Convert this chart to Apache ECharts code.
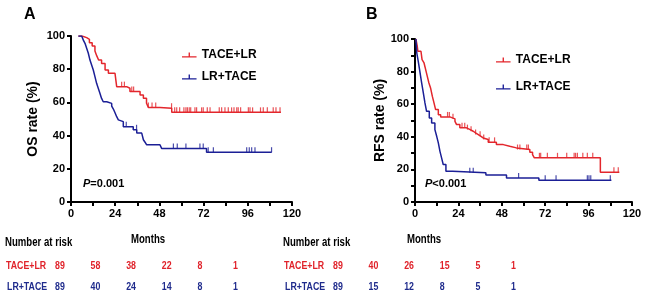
<!DOCTYPE html>
<html>
<head>
<meta charset="utf-8">
<script src="https://cdn.jsdelivr.net/npm/echarts@6/dist/echarts.min.js"></script>
<style>
  html, body { margin: 0; padding: 0; background: #fff; }
  #chart { width: 646px; height: 299px; }
</style>
</head>
<body>
<div id="chart"></div>
<script>
// survival curves, [month, %] at each step
const osTaceLr = [[4,100],[6,99],[8.5,98],[10,96],[11.5,94],[13,91],[14,88],[15,85.5],[16.6,83.5],[18.5,79.5],[20.3,77.5],[23.9,76.5],[24.8,69.5],[30.2,68.5],[32,66.5],[37.5,64.5],[39.3,62.5],[41,59.5],[42,57],[48.3,56.5],[54.7,54],[114,54]];
const osLrTace = [[4,100],[5.8,99],[6.7,97.5],[7.6,95.6],[8.5,92.6],[9.4,89.6],[10.3,85.5],[11.2,82.5],[12.1,79.5],[13,75.5],[13.9,71.5],[14.8,68.5],[15.7,65.5],[16.6,62.4],[17.5,60.4],[19.4,59.4],[22.1,57.8],[23,56],[23.9,53.8],[24.8,51.4],[25.7,49.5],[26.6,48.4],[28.4,45.4],[33.8,43.5],[35.7,41.5],[38.4,40.5],[39.3,37.5],[40.2,36],[41,34.5],[48.3,33.5],[49.2,32.3],[73.6,30],[109,30]];
const rfsTaceLr = [[0.5,100],[1.2,96],[1.6,92.5],[3.3,91.4],[3.9,87.3],[5,85.3],[5.9,81.2],[6.8,77.1],[7.7,73],[8.6,70],[9.6,64.8],[10.5,60.8],[11.4,56.7],[12.9,53.6],[14.2,52.2],[19.3,51],[22.1,49.5],[23,47.5],[24.8,45.5],[28.5,44.4],[30.5,43.4],[32.2,42.4],[33.5,41.4],[35,40.3],[36.5,39.3],[37.7,38.3],[40.5,36.6],[45,35.2],[48.8,34.2],[52.4,33.2],[56.1,32.2],[63.5,30.5],[65,29],[66,27.1],[102.5,18.3],[113,18.3]];
const rfsLrTace = [[0.5,100],[1,91.4],[1.8,86.3],[2.7,80],[3.7,73],[4.6,66.9],[5.5,60.8],[6.4,55.6],[7.9,51.6],[9.2,48.5],[11,44.4],[12,40.3],[12.9,36.3],[13.8,31.1],[14.7,27.1],[15.6,23],[17.1,18.9],[20.8,17.9],[39.2,16.5],[50.6,14.8],[68.5,13.4],[108.6,13.4]];

// censored times
const osTaceLrCens = [27.5,29,33,34,42,44,46,54.6,56.3,57.4,59,61.3,62.4,63.2,64.2,65,67.3,68.2,70.9,71.8,74,75.5,80.5,81.8,83.6,85.4,87.2,88.5,90,90.8,92.1,96.3,97.2,98.6,102.9,104.4,106.6,109.8,111.3,113.5];
const osLrTaceCens = [30,35.6,55.6,57.7,62.4,70,71.8,74.5,77.3,95.4,96.8,98.1,99.9,108.9];
const rfsTaceLrCens = [18,19,21,26,27.5,29,31,33.5,36,38,41,44,56.7,58,61.8,62.7,68.8,69.5,73.2,78.8,83.9,88,88.8,89.8,92.8,95.3,98.3,110,112.4];
const rfsLrTaceCens = [30.3,32.2,57.3,72,78,95.3,96.2,97.2,108];

// number at risk tables
const riskGroups = ['TACE+LR', 'LR+TACE'];
const osRiskTaceLr = [89, 58, 38, 22, 8, 1];
const osRiskLrTace = [89, 40, 24, 14, 8, 1];
const rfsRiskTaceLr = [89, 40, 26, 15, 5, 1];
const rfsRiskLrTace = [89, 15, 12, 8, 5, 1];

const RED = '#e3262c';
const BLUE = '#1b1f96';
const TXT_RED = '#e0222a';
const TXT_BLUE = '#1f2b8c';
const sans = '"Liberation Sans", Arial, sans-serif';

const chart = echarts.init(document.getElementById('chart'), null, { renderer: 'canvas' });

function survAt(curve, t) {
  let v = curve[0][1];
  for (const p of curve) { if (p[0] <= t) v = p[1]; }
  return v;
}
function censorPts(curve, times) {
  return times.map(t => [t, survAt(curve, t)]);
}

const tickIcon = 'path://M0,0h1v6h-1z';
const legendIcon = 'path://M0,4h16v1.5h-16z M7.25,0h1.5v5h-1.5z';

function xAxisOf(gi) {
  return {
    type: 'value', gridIndex: gi, min: 0, max: 120, interval: 12,
    axisLine: { lineStyle: { color: '#000', width: 2 } },
    axisTick: { length: 4, lineStyle: { color: '#000', width: 2 } },
    splitLine: { show: false },
    axisLabel: {
      color: '#000', fontWeight: 'bold', fontSize: 11, fontFamily: sans, margin: 6,
      formatter: v => (v % 24 === 0 ? String(v) : '')
    }
  };
}
function yAxisOf(gi, step, name, gap) {
  return {
    type: 'value', gridIndex: gi, min: 0, max: 100, interval: step,
    name: name, nameLocation: 'middle', nameGap: gap,
    nameTextStyle: { color: '#000', fontWeight: 'bold', fontSize: 14, fontFamily: sans },
    axisLine: { lineStyle: { color: '#000', width: 2 } },
    axisTick: { length: 4, lineStyle: { color: '#000', width: 2 } },
    splitLine: { show: false },
    axisLabel: {
      color: '#000', fontWeight: 'bold', fontSize: 11, fontFamily: sans, margin: 6,
      formatter: v => (v % 20 === 0 ? String(v) : '')
    }
  };
}
function curveSeries(name, data, color, gi) {
  return {
    name: name, type: 'line', step: 'end', data: data,
    xAxisIndex: gi, yAxisIndex: gi, showSymbol: false, silent: true,
    lineStyle: { color: color, width: 1.5 }, itemStyle: { color: color }
  };
}
function censorSeries(name, data, color, gi) {
  return {
    name: name, type: 'scatter', data: data,
    xAxisIndex: gi, yAxisIndex: gi, silent: true,
    symbol: tickIcon, symbolSize: [1.2, 5], symbolOffset: [0, -2.5],
    itemStyle: { color: color }
  };
}

// risk table texts (condensed look)
const graphics = [];
function addText(x, y, text, color, size) {
  graphics.push({
    type: 'text', x: x, y: y, scaleX: 0.8,
    style: { text: text, fill: color, font: 'bold ' + size + 'px ' + sans, verticalAlign: 'middle' }
  });
}
function riskTable(left, numLeft, rows) {
  addText(left, 243, 'Number at risk', '#000', 12);
  rows.forEach((row, r) => {
    const y = r === 0 ? 266 : 287;
    const color = r === 0 ? TXT_RED : TXT_BLUE;
    addText(left + 1 + r, y, riskGroups[r], color, 11);
    row.forEach((n, i) => addText(numLeft + i * 35.6, y, String(n), color, 11));
  });
}
riskTable(5, 55, [osRiskTaceLr, osRiskLrTace]);
riskTable(283, 333, [rfsRiskTaceLr, rfsRiskLrTace]);
addText(131, 240, 'Months', '#000', 12);
addText(407, 240, 'Months', '#000', 12);

// p values
function pText(x, text) {
  graphics.push({
    type: 'text', x: x, y: 184,
    style: { text: text, font: 'bold 11px ' + sans, fill: '#000', verticalAlign: 'middle',
      rich: { i: { fontStyle: 'italic', fontWeight: 'bold', fontSize: 11, fontFamily: sans } } }
  });
}
pText(83, '{i|P}=0.001');
pText(425, '{i|P}<0.001');

const option = {
  animation: false,
  backgroundColor: '#fff',
  title: [
    { text: 'A', left: 19, top: 2, textStyle: { fontSize: 16, fontWeight: 'bold', color: '#000', fontFamily: sans } },
    { text: 'B', left: 361, top: 2, textStyle: { fontSize: 16, fontWeight: 'bold', color: '#000', fontFamily: sans } }
  ],
  legend: [
    {
      left: 177, top: 43, orient: 'vertical', itemGap: 8, itemWidth: 15, itemHeight: 5,
      icon: legendIcon, data: ['TACE+LR', 'LR+TACE'], selectedMode: false,
      textStyle: { color: '#000', fontWeight: 'bold', fontSize: 12, fontFamily: sans, lineHeight: 14 }
    },
    {
      left: 491, top: 48, orient: 'vertical', itemGap: 13, itemWidth: 15, itemHeight: 5,
      icon: legendIcon, data: ['TACE+LR', 'LR+TACE'], selectedMode: false,
      textStyle: { color: '#000', fontWeight: 'bold', fontSize: 12, fontFamily: sans, lineHeight: 14 }
    }
  ],
  grid: [
    { left: 71, top: 36, width: 221, height: 166 },
    { left: 415, top: 39, width: 217, height: 163 }
  ],
  xAxis: [xAxisOf(0), xAxisOf(1)],
  yAxis: [yAxisOf(0, 20, 'OS rate (%)', 31), yAxisOf(1, 10, 'RFS rate (%)', 27)],
  series: [
    curveSeries('TACE+LR', osTaceLr, RED, 0),
    curveSeries('LR+TACE', osLrTace, BLUE, 0),
    censorSeries('TACE+LR', censorPts(osTaceLr, osTaceLrCens), RED, 0),
    censorSeries('LR+TACE', censorPts(osLrTace, osLrTaceCens), BLUE, 0),
    curveSeries('TACE+LR', rfsTaceLr, RED, 1),
    curveSeries('LR+TACE', rfsLrTace, BLUE, 1),
    censorSeries('TACE+LR', censorPts(rfsTaceLr, rfsTaceLrCens), RED, 1),
    censorSeries('LR+TACE', censorPts(rfsLrTace, rfsLrTaceCens), BLUE, 1)
  ],
  graphic: graphics
};
chart.setOption(option);
window.addEventListener('resize', function () { chart.resize(); });
</script>
</body>
</html>
